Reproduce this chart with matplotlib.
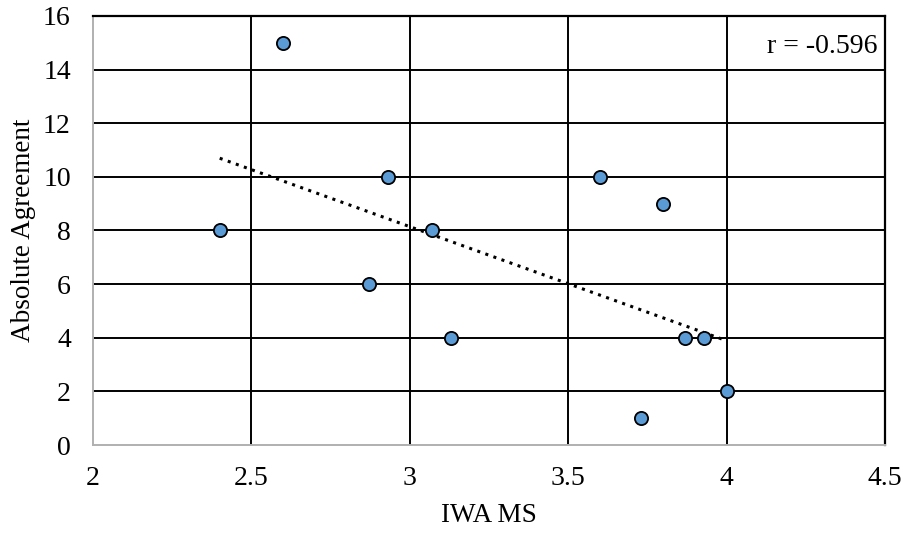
import matplotlib
matplotlib.use("Agg")
import matplotlib.pyplot as plt
import numpy as np

# values
iwa_ms = [2.4, 2.6, 2.87, 2.93, 3.07, 3.13, 3.6, 3.73, 3.8, 3.87, 3.93, 4.0]
agreement = [8, 15, 6, 10, 8, 4, 10, 1, 9, 4, 4, 2]
x_ticks = [2, 2.5, 3, 3.5, 4, 4.5]
y_ticks = [0, 2, 4, 6, 8, 10, 12, 14, 16]
r_label = "r = -0.596"

plt.rcParams['font.family'] = ['Liberation Serif', 'DejaVu Serif']

fig = plt.figure(figsize=(9.08, 5.33), dpi=100)
ax = fig.add_axes([0.1024, 0.1651, 0.8723, 0.8049])

ax.set_xlim(x_ticks[0], x_ticks[-1])
ax.set_ylim(y_ticks[0], y_ticks[-1])
ax.set_xticks(x_ticks)
ax.set_yticks(y_ticks)
ax.set_xticklabels([f"{t:g}" for t in x_ticks])
ax.set_yticklabels([str(t) for t in y_ticks])
ax.tick_params(axis='x', length=0, labelsize=20, pad=15)
ax.tick_params(axis='y', length=0, labelsize=20, pad=16)

# interior grid lines (edges are the spines)
for t in x_ticks[1:-1]:
    ax.axvline(t, color='black', lw=1.4, zorder=1)
for t in y_ticks[1:-1]:
    ax.axhline(t, color='black', lw=1.4, zorder=1)

for side in ['top', 'right']:
    ax.spines[side].set_color('black')
    ax.spines[side].set_linewidth(1.6)
for side in ['left', 'bottom']:
    ax.spines[side].set_color('#B0B0B0')
    ax.spines[side].set_linewidth(1.4)

# linear trendline
slope, intercept = np.polyfit(iwa_ms, agreement, 1)
xs = np.array([min(iwa_ms), max(iwa_ms)])
ax.plot(xs, slope * xs + intercept, color='black', lw=2.2, ls=(0, (1, 1.8)), zorder=2)

ax.plot(iwa_ms, agreement, 'o', ms=9.5, mfc='#5B9BD5', mec='black', mew=1.3, zorder=3)

ax.text(0.99, 0.928, r_label, transform=ax.transAxes, ha='right', va='center', fontsize=20)

ax.set_xlabel("IWA MS", fontsize=19.5, labelpad=9)
ax.set_ylabel("Absolute Agreement", fontsize=19.5, labelpad=5)

fig.savefig("out.png", dpi=100)
